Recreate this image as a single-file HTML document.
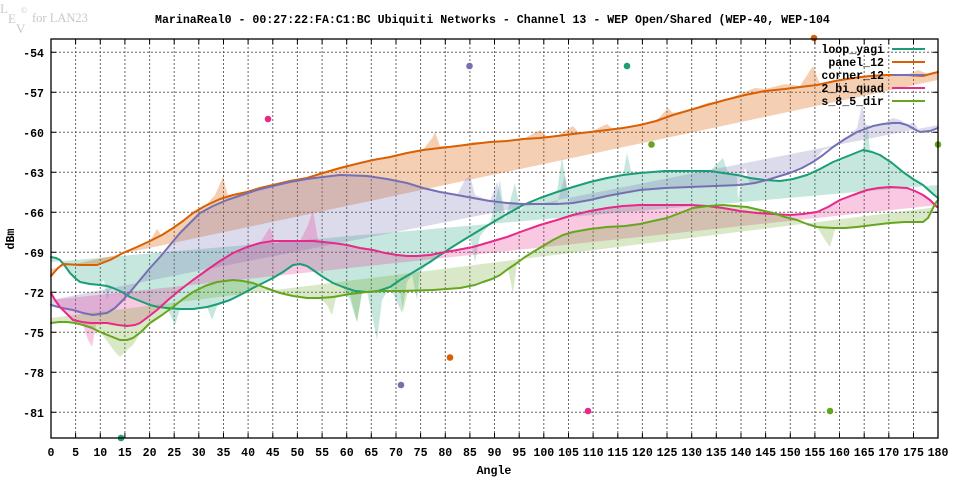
<!DOCTYPE html>
<html><head><meta charset="utf-8"><style>
html,body{margin:0;padding:0;background:#fff;}
svg{display:block;}
.t{font-family:"Liberation Mono",monospace;font-weight:bold;font-size:11.6px;fill:#000;}
.w{font-family:"Liberation Serif",serif;fill:#c8c8c8;}
</style></head><body>
<svg width="960" height="480" viewBox="0 0 960 480" xmlns="http://www.w3.org/2000/svg">
<rect width="960" height="480" fill="#fff"/>
<!-- watermark -->
<text class="w" x="0" y="13" font-size="13">L</text>
<text class="w" x="8" y="23" font-size="13">E</text>
<text class="w" x="16" y="33" font-size="13">V</text>
<text class="w" x="21" y="13" font-size="8">©</text>
<text class="w" x="32" y="22" font-size="12.5">for LAN23</text>
<!-- title -->
<text class="t" x="155" y="23">MarinaReal0 - 00:27:22:FA:C1:BC Ubiquiti Networks - Channel 13 - WEP Open/Shared (WEP-40, WEP-104</text>
<!-- grid -->
<g stroke="#666" stroke-width="1" stroke-dasharray="2,2" fill="none">
<path d="M51 52.3H938M51 92.3H938M51 132.3H938M51 172.3H938M51 212.3H938M51 252.3H938M51 292.3H938M51 332.3H938M51 372.3H938M51 412.3H938"/>
<path d="M75.6 39V438M100.3 39V438M124.9 39V438M149.6 39V438M174.2 39V438M198.8 39V438M223.5 39V438M248.1 39V438M272.8 39V438M297.4 39V438M322.1 39V438M346.7 39V438M371.3 39V438M396 39V438M420.6 39V438M445.3 39V438M469.9 39V438M494.5 39V438M519.2 39V438M543.8 39V438M568.5 39V438M593.1 39V438M617.8 39V438M642.4 39V438M667 39V438M691.7 39V438M716.3 39V438M741 39V438M765.6 39V438M790.3 39V438M814.9 39V438M839.5 39V438M864.2 39V438M888.8 39V438M913.5 39V438"/>
</g>
<!-- fills -->
<g fill-opacity="0.25" stroke="none">
<polygon fill="#1b9e77" points="51,257 56,258 60,262 65,266 70,273 75,278 80,282 90,284 100,285 104,280 107,300 110,290 113,288 122,292 130,297 140,301 150,305 158,307 167,308 175,325 180,309 193,309 207,307 212,320 218,304 230,300 242,294 253,288 263,283 273,278 283,272 293,265 300,264 307,266 313,270 323,277 333,283 343,287 350,300 357,322 362,293 367,292 372,315 377,340 382,300 390,287 396,300 402,313 407,282 412,275 417,300 420,272 430,262 443,253 457,244 470,236 475,262 480,236 490,224 500,180 505,220 515,183 520,210 530,202 540,198 557,192 562,157 567,190 573,187 590,182 607,178 623,175 627,153 632,175 640,173 665,171 690,171 710,171 723,158 728,173 737,175 738,200 742,178 750,178 765,180 780,181 793,179 807,175 820,169 833,162 848,156 863,150 867,123 870,150 880,155 892,163 903,172 913,179 923,185 933,194 938,198 938,185 51,262"/>
<polygon fill="#d95f02" fill-opacity="0.3" points="51,276 58,268 63,264 80,265 97,265 110,260 123,253 137,247 150,241 157,229 162,236 173,228 183,221 193,213 205,206 215,195 223,177 228,196 247,192 260,188 273,185 290,181 307,178 323,173 340,168 360,163 373,160 390,157 407,153 423,150 432,138 435,132 440,146 457,146 473,142 490,142 507,141 523,139 540,130 548,137 557,136 573,126 580,134 590,132 607,124 614,130 623,128 640,125 656,121 668,108 673,113 690,110 707,103 725,100 745,92 755,88 765,89 785,84 800,86 813,66 820,84 835,81 853,77 870,76 887,75 907,75 918,70 923,72 930,74 938,72 938,80 51,269"/>
<polygon fill="#7570b3" points="51,305 62,308 73,310 83,313 93,315 107,313 115,308 123,300 131,291 140,280 150,268 160,257 170,245 180,233 190,223 200,213 213,206 227,200 242,195 257,190 273,186 290,182 307,179 323,177 340,175 367,176 387,179 407,183 423,188 440,192 457,195 465,180 470,176 475,195 490,201 497,182 502,202 507,203 523,204 540,204 557,204 565,175 570,203 590,200 607,196 623,193 640,190 665,188 690,187 715,186 740,185 745,168 750,184 767,180 780,176 790,173 802,168 813,162 823,150 833,147 845,139 857,128 862,105 866,125 873,126 883,124 893,118 900,120 907,125 914,122 920,132 930,131 938,128 938,125 51,300"/>
<polygon fill="#e7298a" points="51,293 55,300 60,307 67,314 73,320 82,322 88,340 92,347 96,325 107,323 118,325 127,326 135,325 140,323 148,317 157,310 168,300 180,290 193,280 207,270 220,261 233,253 247,247 260,243 270,227 275,243 287,241 300,241 308,225 313,210 318,240 323,242 333,243 347,245 360,248 373,250 385,253 397,255 407,256 417,256 430,255 440,253 457,250 473,247 490,242 507,237 523,231 540,225 557,220 573,215 590,211 607,208 623,206 640,205 665,205 690,205 707,206 723,208 740,211 757,213 773,214 790,215 803,214 817,212 828,207 840,200 853,195 867,190 878,188 890,187 907,188 915,191 923,195 930,200 937,207 938,205 51,300"/>
<polygon fill="#66a61e" points="51,323 59,322 67,322 75,323 83,325 92,328 100,332 110,345 115,352 120,357 127,350 133,345 141,332 150,323 162,315 173,307 183,299 193,292 205,286 217,282 225,281 233,280 243,281 253,283 266,288 280,293 293,296 307,298 320,298 327,305 332,315 336,298 350,294 357,322 362,292 367,292 384,291 400,291 403,312 408,291 433,290 460,288 475,285 483,282 492,279 500,275 508,269 513,293 517,263 525,257 533,252 543,246 553,240 563,235 573,232 590,229 607,227 625,226 640,224 653,221 667,218 680,213 693,208 708,206 723,205 735,206 747,207 760,210 773,213 785,217 797,220 807,224 817,227 825,240 830,247 835,229 845,228 857,227 873,225 890,223 905,222 915,222 923,222 928,218 932,210 935,204 938,200 938,207 51,318"/>
</g>
<!-- lines -->
<g fill="none" stroke-width="2" stroke-linejoin="round" stroke-linecap="round">
<polyline stroke="#1b9e77" points="51,257 56,258 60,260 65,266 70,273 75,278 80,282 90,284 100,285 107,286 113,288 122,292 130,297 140,301 150,305 158,307 167,308 180,309 193,309 207,307 218,304 230,300 242,294 253,288 263,283 273,278 283,272 293,265 300,264 307,266 313,270 323,277 333,283 343,287 355,291 367,292 378,291 390,287 400,280 417,270 430,262 443,253 457,244 470,236 490,224 507,214 523,205 540,198 557,192 573,187 590,182 607,178 623,175 640,173 665,171 690,171 710,171 723,173 737,175 750,178 765,180 780,181 793,179 807,175 820,169 833,162 848,156 863,150 872,152 880,155 892,163 903,172 913,179 923,185 933,194 938,198"/>
<polyline stroke="#d95f02" points="51,276 58,268 63,264 80,265 97,265 110,260 123,253 137,247 150,241 162,235 173,228 183,221 193,213 205,206 220,199 233,195 247,192 260,188 273,185 290,181 307,178 323,173 340,168 360,163 373,160 390,157 407,153 423,150 440,148 457,146 473,144 490,142 507,141 523,139 540,138 557,136 573,134 590,132 607,130 623,128 640,125 656,121 673,115 690,110 707,105 725,100 745,95 765,91 785,89 800,87 817,85 835,81 853,78 870,76 887,75 907,75 923,76 930,74 938,72"/>
<polyline stroke="#7570b3" points="51,305 62,308 73,310 83,313 93,315 107,313 115,308 123,300 131,291 140,280 150,268 160,257 170,245 180,233 190,223 200,213 213,206 227,200 242,195 257,190 273,186 290,182 307,179 323,177 340,175 367,176 387,179 407,183 423,188 440,192 457,195 473,198 490,201 507,203 523,204 540,204 557,204 573,203 590,200 607,196 623,193 640,190 665,188 690,187 715,186 740,185 755,183 767,180 780,176 790,173 802,168 813,162 823,155 833,147 845,139 857,132 865,129 873,126 883,124 893,123 900,123 907,125 914,129 920,132 930,131 938,128"/>
<polyline stroke="#e7298a" points="51,293 55,300 60,307 67,314 73,320 82,322 90,323 107,323 118,325 127,326 135,325 140,323 148,317 157,310 168,300 180,290 193,280 207,270 220,261 233,253 247,247 260,243 273,241 287,241 300,241 313,241 323,242 333,243 347,245 360,248 373,250 385,253 397,255 407,256 417,256 430,255 440,253 457,250 473,247 490,242 507,237 523,231 540,225 557,220 573,215 590,211 607,208 623,206 640,205 665,205 690,205 707,206 723,208 740,211 757,213 773,214 790,215 803,214 817,212 828,207 840,200 853,195 867,190 878,188 890,187 907,188 915,191 923,195 930,200 937,207"/>
<polyline stroke="#66a61e" points="51,323 59,322 67,322 75,323 83,325 92,328 100,332 110,336 120,340 127,340 133,338 141,332 150,323 162,315 173,307 183,299 193,292 205,286 217,282 225,281 233,280 243,281 253,283 266,288 280,293 293,296 307,298 320,298 333,297 350,294 367,292 384,291 400,291 433,290 460,288 475,285 483,282 492,279 500,275 508,269 517,263 525,257 533,252 543,246 553,240 563,235 573,232 590,229 607,227 625,226 640,224 653,221 667,218 680,213 693,208 708,206 723,205 735,206 747,207 760,210 773,213 785,217 797,220 807,224 817,227 833,228 845,228 857,227 873,225 890,223 905,222 915,222 923,222 928,218 932,210 935,204 938,200"/>
</g>
<!-- outlier points -->
<g>
<circle cx="121" cy="438" r="3.3" fill="#1b9e77"/>
<circle cx="627" cy="66" r="3.3" fill="#1b9e77"/>
<circle cx="814" cy="38" r="3.3" fill="#d95f02"/>
<circle cx="450" cy="357.5" r="3.3" fill="#d95f02"/>
<circle cx="469.5" cy="66" r="3.3" fill="#7570b3"/>
<circle cx="401" cy="385" r="3.3" fill="#7570b3"/>
<circle cx="268" cy="119" r="3.3" fill="#e7298a"/>
<circle cx="588" cy="411" r="3.3" fill="#e7298a"/>
<circle cx="651.5" cy="144.5" r="3.3" fill="#66a61e"/>
<circle cx="938" cy="144.5" r="3.3" fill="#66a61e"/>
<circle cx="830" cy="411" r="3.3" fill="#66a61e"/>
</g>
<!-- border and ticks -->
<rect x="51" y="39" width="887" height="399" fill="none" stroke="#000" stroke-width="1.3"/>
<g stroke="#000" stroke-width="1">
<path d="M51 52.3h5M51 92.3h5M51 132.3h5M51 172.3h5M51 212.3h5M51 252.3h5M51 292.3h5M51 332.3h5M51 372.3h5M51 412.3h5"/>
<path d="M938 52.3h-5M938 92.3h-5M938 132.3h-5M938 172.3h-5M938 212.3h-5M938 252.3h-5M938 292.3h-5M938 332.3h-5M938 372.3h-5M938 412.3h-5"/>
<path d="M75.6 438v-5M100.3 438v-5M124.9 438v-5M149.6 438v-5M174.2 438v-5M198.8 438v-5M223.5 438v-5M248.1 438v-5M272.8 438v-5M297.4 438v-5M322.1 438v-5M346.7 438v-5M371.3 438v-5M396 438v-5M420.6 438v-5M445.3 438v-5M469.9 438v-5M494.5 438v-5M519.2 438v-5M543.8 438v-5M568.5 438v-5M593.1 438v-5M617.8 438v-5M642.4 438v-5M667 438v-5M691.7 438v-5M716.3 438v-5M741 438v-5M765.6 438v-5M790.3 438v-5M814.9 438v-5M839.5 438v-5M864.2 438v-5M888.8 438v-5M913.5 438v-5"/>
<path d="M75.6 39v5M100.3 39v5M124.9 39v5M149.6 39v5M174.2 39v5M198.8 39v5M223.5 39v5M248.1 39v5M272.8 39v5M297.4 39v5M322.1 39v5M346.7 39v5M371.3 39v5M396 39v5M420.6 39v5M445.3 39v5M469.9 39v5M494.5 39v5M519.2 39v5M543.8 39v5M568.5 39v5M593.1 39v5M617.8 39v5M642.4 39v5M667 39v5M691.7 39v5M716.3 39v5M741 39v5M765.6 39v5M790.3 39v5M814.9 39v5M839.5 39v5M864.2 39v5M888.8 39v5M913.5 39v5"/>
</g>
<!-- y tick labels -->
<g class="t" text-anchor="end">
<text x="44" y="57">-54</text>
<text x="44" y="97">-57</text>
<text x="44" y="137">-60</text>
<text x="44" y="177">-63</text>
<text x="44" y="217">-66</text>
<text x="44" y="257">-69</text>
<text x="44" y="297">-72</text>
<text x="44" y="337">-75</text>
<text x="44" y="377">-78</text>
<text x="44" y="417">-81</text>
</g>
<!-- x tick labels -->
<g class="t" text-anchor="middle">
<text x="51" y="456">0</text><text x="75.6" y="456">5</text><text x="100.3" y="456">10</text><text x="124.9" y="456">15</text><text x="149.6" y="456">20</text><text x="174.2" y="456">25</text><text x="198.8" y="456">30</text><text x="223.5" y="456">35</text><text x="248.1" y="456">40</text><text x="272.8" y="456">45</text><text x="297.4" y="456">50</text><text x="322.1" y="456">55</text><text x="346.7" y="456">60</text><text x="371.3" y="456">65</text><text x="396" y="456">70</text><text x="420.6" y="456">75</text><text x="445.3" y="456">80</text><text x="469.9" y="456">85</text><text x="494.5" y="456">90</text><text x="519.2" y="456">95</text><text x="543.8" y="456">100</text><text x="568.5" y="456">105</text><text x="593.1" y="456">110</text><text x="617.8" y="456">115</text><text x="642.4" y="456">120</text><text x="667" y="456">125</text><text x="691.7" y="456">130</text><text x="716.3" y="456">135</text><text x="741" y="456">140</text><text x="765.6" y="456">145</text><text x="790.3" y="456">150</text><text x="814.9" y="456">155</text><text x="839.5" y="456">160</text><text x="864.2" y="456">165</text><text x="888.8" y="456">170</text><text x="913.5" y="456">175</text><text x="938" y="456">180</text>
</g>
<text class="t" x="494" y="474" text-anchor="middle">Angle</text>
<text class="t" x="14" y="239" text-anchor="middle" transform="rotate(-90 14 239)">dBm</text>
<!-- legend -->
<g class="t" text-anchor="end">
<text x="884" y="53">loop_yagi</text>
<text x="884" y="66">panel_12</text>
<text x="884" y="79">corner_12</text>
<text x="884" y="92">2_bi_quad</text>
<text x="884" y="105">s_8_5_dir</text>
</g>
<g stroke-width="2">
<line x1="892" y1="49" x2="925" y2="49" stroke="#1b9e77"/>
<line x1="892" y1="62" x2="925" y2="62" stroke="#d95f02"/>
<line x1="892" y1="75" x2="925" y2="75" stroke="#7570b3"/>
<line x1="892" y1="88" x2="925" y2="88" stroke="#e7298a"/>
<line x1="892" y1="101" x2="925" y2="101" stroke="#66a61e"/>
</g>
</svg>
</body></html>
